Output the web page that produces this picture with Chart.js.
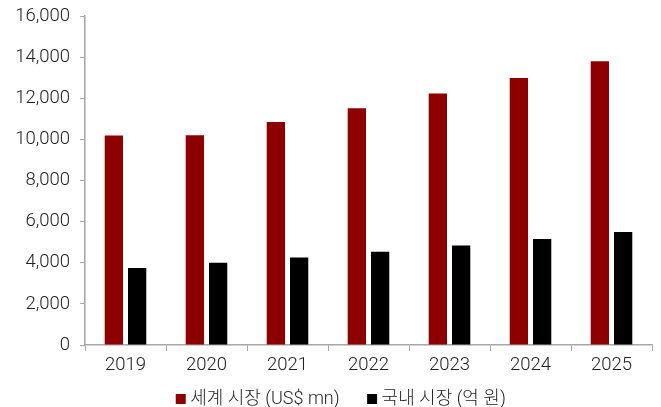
<!DOCTYPE html>
<html>
<head>
<meta charset="utf-8">
<script src="https://cdn.jsdelivr.net/npm/chart.js@4"></script>
<style>
  html, body { margin: 0; padding: 0; background: #fff; }
  #wrap { width: 661px; height: 407px; }
</style>
</head>
<body>
<div id="wrap"><canvas id="chart"></canvas></div>
<script>
const years = ['2019', '2020', '2021', '2022', '2023', '2024', '2025'];
const worldMarket = [10190, 10200, 10840, 11510, 12230, 12990, 13800];
const domesticMarket = [3740, 4000, 4260, 4540, 4840, 5150, 5490];
const seriesNames = ['세계 시장 (US$ mn)', '국내 시장 (억 원)'];

const FONT = "Roboto, 'Noto Sans CJK KR', sans-serif";
const axisColor = '#a6a6a6';

// let x labels overflow into the legend area and nudge the legend right
const layoutFix = {
    id: 'layoutFix',
    afterLayout(chart) {
        chart.scales.x.bottom = chart.height;
        chart.legend.left += 17;
        chart.legend.right += 17;
    }
};

const ctx = document.getElementById('chart').getContext('2d');
new Chart(ctx, {
    type: 'bar',
    data: {
        labels: years,
        datasets: [{
            label: seriesNames[0],
            data: worldMarket,
            backgroundColor: '#8e0000',
            categoryPercentage: 0.575,
            barPercentage: 0.785
        }, {
            label: seriesNames[1],
            data: domesticMarket,
            backgroundColor: '#000000',
            categoryPercentage: 0.575,
            barPercentage: 0.785
        }]
    },
    plugins: [layoutFix],
    options: {
        responsive: true,
        maintainAspectRatio: false,
        animation: false,
        layout: { padding: { top: 16, right: 9, left: 0, bottom: -11 } },
        plugins: {
            tooltip: { enabled: false },
            legend: {
                position: 'bottom',
                labels: {
                    usePointStyle: true,
                    pointStyle: 'rect',
                    boxWidth: 1,
                    boxHeight: 10,
                    padding: 32,
                    color: '#222',
                    font: { family: FONT, size: 18, weight: 300 }
                }
            }
        },
        scales: {
            x: {
                grid: {
                    offset: true,
                    drawOnChartArea: false,
                    tickLength: 6,
                    color: axisColor
                },
                border: { color: axisColor, width: 1.5 },
                ticks: { color: '#222', font: { family: FONT, size: 18.5, weight: 300 }, padding: 3 },
                afterFit: scale => { scale.height = 13; }
            },
            y: {
                min: 0,
                max: 16000,
                grid: {
                    drawOnChartArea: false,
                    tickLength: 5,
                    color: axisColor
                },
                border: { color: axisColor, width: 1.5 },
                ticks: {
                    stepSize: 2000,
                    color: '#222',
                    font: { family: FONT, size: 18.5, weight: 300 },
                    padding: 10,
                    callback: v => v.toLocaleString('en-US')
                },
                afterFit: scale => {
                    scale.width = 85;
                    scale.paddingTop = 0;
                    scale.paddingBottom = 0;
                }
            }
        }
    }
});
</script>
</body>
</html>
